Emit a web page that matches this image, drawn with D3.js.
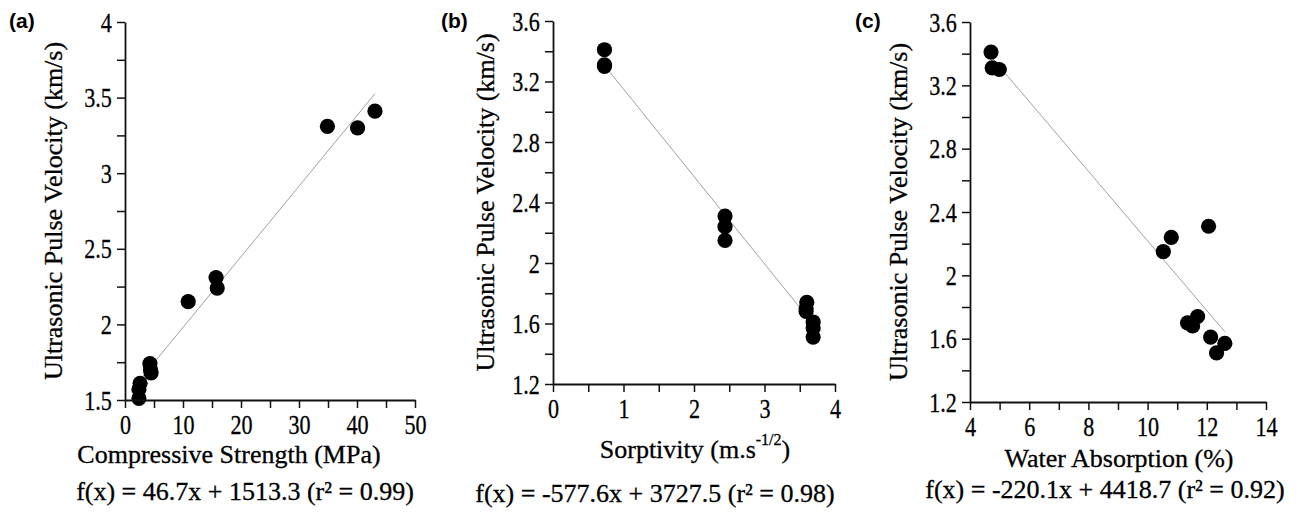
<!DOCTYPE html>
<html>
<head>
<meta charset="utf-8">
<script src="https://cdn.jsdelivr.net/npm/d3@7"></script>
<style>
    body { margin: 0; background: #fff; }
    text { font-family: "Liberation Serif", "Times New Roman", serif; fill: #000; stroke: #000; stroke-width: 0.3px; }
</style>
</head>
<body>
<div id="chart"></div>
<script>
// data (UPV in km/s, one value per sample)
var pulseVelocity = [3.41, 3.31, 3.30, 2.31, 2.24, 2.15, 1.74, 1.70, 1.68, 1.61, 1.57, 1.51];
var compressiveStrength = [43.1, 34.9, 40.1, 15.7, 15.9, 10.9, 4.3, 4.4, 4.5, 2.6, 2.4, 2.4];
var sorptivity = [0.73, 0.73, 0.73, 2.44, 2.44, 2.44, 3.60, 3.59, 3.59, 3.69, 3.69, 3.69];
var waterAbsorption = [4.71, 4.75, 4.99, 12.06, 10.80, 10.53, 11.69, 11.35, 11.52, 12.13, 12.61, 12.33];

// regression fits printed under each panel (UPV in m/s)
var fitSlope = [46.7, -577.6, -220.1];
var fitIntercept = [1513.3, 3727.5, 4418.7];
var fitR2 = [0.99, 0.98, 0.92];

var panelNames = ["(a)", "(b)", "(c)"];
var yTitle = "Ultrasonic Pulse Velocity (km/s)";
var xTitles = ["Compressive Strength (MPa)", "Sorptivity (m.s", "Water Absorption (%)"];

// tick labels
var xTickLabelsA = [0, 10, 20, 30, 40, 50];
var xTickLabelsB = [0, 1, 2, 3, 4];
var xTickLabelsC = [4, 6, 8, 10, 12, 14];
var yTickLabelsA = [1.5, 2, 2.5, 3, 3.5, 4];
var yTickLabelsBC = [1.2, 1.6, 2, 2.4, 2.8, 3.2, 3.6];

var svg = d3.select("#chart").append("svg").attr("width", 1302).attr("height", 512);

// layout of the three panels
var panels = [
    { x: compressiveStrength, xLabels: xTickLabelsA, xStep: 5, yLabels: yTickLabelsA, yStep: 0.25,
      left: 125, right: 415, top: 22, bottom: 400, name: [9, 28], yTitleX: 62,
      xTitle: [229, 463], eq: [245, 500] },
    { x: sorptivity, xLabels: xTickLabelsB, xStep: 0.5, yLabels: yTickLabelsBC, yStep: 0.2,
      left: 553, right: 835, top: 21, bottom: 384, name: [441, 28], yTitleX: 494,
      xTitle: [695, 458], eq: [655, 502] },
    { x: waterAbsorption, xLabels: xTickLabelsC, xStep: 1, yLabels: yTickLabelsBC, yStep: 0.2,
      left: 970, right: 1266, top: 22, bottom: 402, name: [855, 28], yTitleX: 907,
      xTitle: [1119, 467], eq: [1105, 498] }
];

function stepTicks(labels, step) {
    var lo = labels[0], hi = labels[labels.length - 1];
    var n = Math.round((hi - lo) / step);
    return d3.range(0, n + 1).map(function (i) { return +(lo + i * step).toFixed(3); });
}

function labelFormat(labels) {
    return function (d) {
        var hit = labels.filter(function (l) { return Math.abs(l - d) < 1e-6; });
        return hit.length ? String(hit[0]) : "";
    };
}

panels.forEach(function (p, i) {
    var xDom = [p.xLabels[0], p.xLabels[p.xLabels.length - 1]];
    var yDom = [p.yLabels[0], p.yLabels[p.yLabels.length - 1]];
    var x_scale = d3.scaleLinear().domain(xDom).range([p.left, p.right]);
    var y_scale = d3.scaleLinear().domain(yDom).range([p.bottom, p.top]);

    var g = svg.append("g");

    // regression line across the data range
    var ext = d3.extent(p.x);
    var fit = function (v) { return (fitSlope[i] * v + fitIntercept[i]) / 1000; };
    g.append("line")
        .attr("x1", x_scale(ext[0])).attr("y1", y_scale(fit(ext[0])))
        .attr("x2", x_scale(ext[1])).attr("y2", y_scale(fit(ext[1])))
        .style("stroke", "#a0a0a0")
        .style("stroke-width", 1);

    // points
    g.selectAll("circle")
        .data(p.x)
        .enter()
        .append("circle")
        .attr("cx", function (d) { return x_scale(d); })
        .attr("cy", function (d, j) { return y_scale(pulseVelocity[j]); })
        .attr("r", 7.6)
        .style("fill", "#000");

    // axes
    var x_axis = d3.axisBottom(x_scale).tickValues(stepTicks(p.xLabels, p.xStep))
        .tickSize(8).tickSizeOuter(0).tickFormat(labelFormat(p.xLabels));
    var y_axis = d3.axisLeft(y_scale).tickValues(stepTicks(p.yLabels, p.yStep))
        .tickSize(8).tickSizeOuter(0).tickFormat(labelFormat(p.yLabels));

    var gx = g.append("g").attr("transform", "translate(0," + p.bottom + ")").call(x_axis);
    var gy = g.append("g").attr("transform", "translate(" + p.left + ",0)").call(y_axis);

    [gx, gy].forEach(function (ax) {
        ax.attr("font-family", '"Liberation Serif", serif').attr("font-size", 27);
        ax.select(".domain").style("stroke", "#111").style("stroke-width", 1.8);
        ax.selectAll(".tick line").style("stroke", "#111").style("stroke-width", 1.5);
        ax.selectAll(".tick text")
            .attr("fill", "#000")
            .attr("transform", "scale(0.82,1)");
    });
    gx.selectAll(".tick text").attr("y", 34).attr("dy", null);
    gy.selectAll(".tick text").attr("x", -16).attr("dy", "0.34em");

    // panel letter
    svg.append("text")
        .attr("x", p.name[0]).attr("y", p.name[1])
        .style("font-family", '"Liberation Sans", Arial, sans-serif')
        .style("font-weight", "bold")
        .style("font-size", "21px")
        .style("stroke", "none")
        .text(panelNames[i]);

    // y title
    svg.append("text")
        .attr("text-anchor", "middle")
        .attr("transform", "translate(" + p.yTitleX + "," + ((p.top + p.bottom) / 2) + ") rotate(-90)")
        .style("font-size", "26px")
        .text(yTitle);

    // x title
    var xt = svg.append("text")
        .attr("text-anchor", "middle")
        .attr("x", p.xTitle[0]).attr("y", p.xTitle[1])
        .style("font-size", "26px")
        .text(xTitles[i]);
    if (i == 1) {
        xt.append("tspan").attr("dy", -13).style("font-size", "16px").text("-1/2");
        xt.append("tspan").attr("dy", 13).text(")");
    }

    // fit equation
    svg.append("text")
        .attr("text-anchor", "middle")
        .attr("x", p.eq[0]).attr("y", p.eq[1])
        .style("font-size", "26px")
        .text("f(x) = " + fitSlope[i].toFixed(1) + "x + " + fitIntercept[i].toFixed(1)
            + " (r\u00B2 = " + fitR2[i].toFixed(2) + ")");
});
</script>
</body>
</html>
